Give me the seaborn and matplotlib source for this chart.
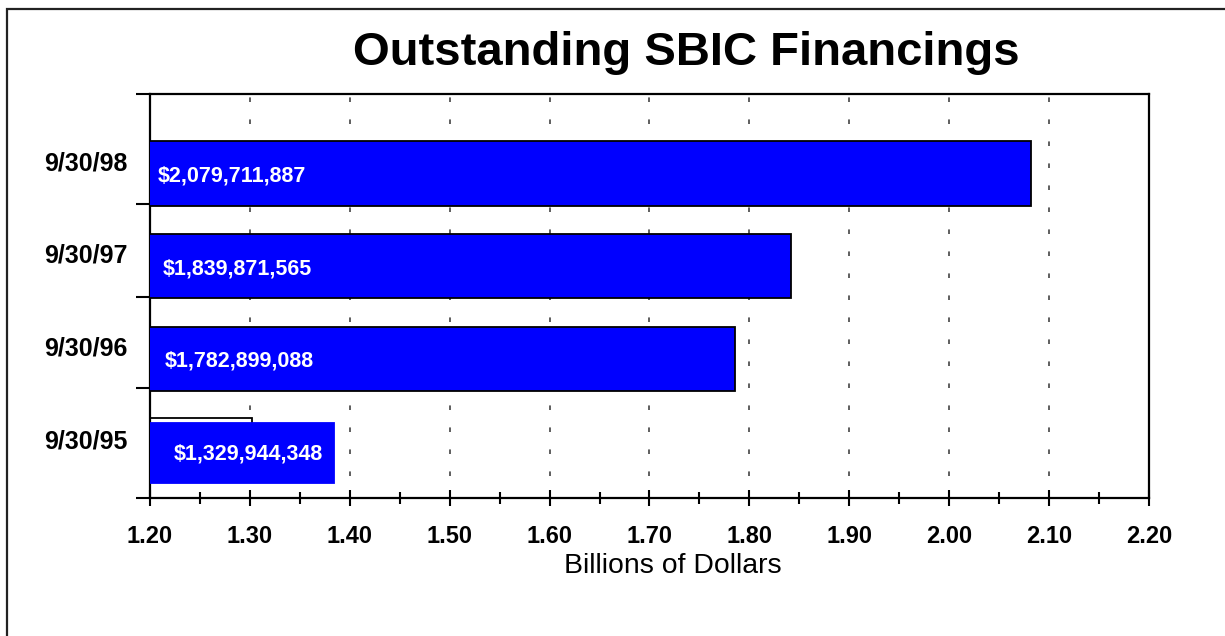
import matplotlib
matplotlib.use("Agg")
import matplotlib.pyplot as plt
import matplotlib.transforms as mtransforms
from matplotlib.patches import Rectangle
from matplotlib.ticker import MultipleLocator, FixedLocator
import seaborn as sns
import pandas as pd

# ---- data ----
categories = ["9/30/98", "9/30/97", "9/30/96", "9/30/95"]
bar_values = [2.082, 1.842, 1.786, 1.384]          # billions, drawn bar lengths
bar_labels = ["$2,079,711,887", "$1,839,871,565", "$1,782,899,088", "$1,329,944,348"]
ghost_value_95 = 1.302                               # stray outline behind the 9/30/95 bar
x_ticks = [1.20, 1.30, 1.40, 1.50, 1.60, 1.70, 1.80, 1.90, 2.00, 2.10, 2.20]
title = "Outstanding SBIC Financings"
xlabel = "Billions of Dollars"

sns.set_style("white")
plt.rcParams["font.family"] = ["Liberation Sans", "DejaVu Sans"]

W, H = 1225, 636
fig = plt.figure(figsize=(W / 100, H / 100), dpi=100)
ax = fig.add_axes([150 / W, 1 - 497.5 / H, 999 / W, (497.5 - 94) / H])

df = pd.DataFrame({"cat": categories, "val": bar_values})

# stray outline bar (drawn first, sits behind)
ax.barh([2.975], [ghost_value_95 - 1.2], left=1.2, height=0.68,
        facecolor="none", edgecolor="black", linewidth=1.3, zorder=2)

sns.barplot(data=df, x="val", y="cat", order=categories, orient="h",
            color="#0000FF", saturation=1, width=0.69,
            edgecolor="black", linewidth=1.3, ax=ax, zorder=3)

for i, p in enumerate(ax.patches[1:]):
    if i == 3:
        p.set_edgecolor("#0000FF")
        p.set_height(0.646)
        p.set_y(3.008 - 0.323)

ax.set_xlim(1.2, 2.2)
ax.set_ylim(3.487, -0.856)

# bar value labels
label_offsets = [8, 13, 15, 24]
for i, (v, lab) in enumerate(zip(bar_values, bar_labels)):
    ax.annotate(lab, xy=(1.2, i), xytext=(label_offsets[i] * 0.72, -1.5),
                textcoords="offset points", ha="left", va="center",
                color="white", fontsize=15.5, fontweight="bold", zorder=5)

# x axis
ax.xaxis.set_major_locator(FixedLocator(x_ticks))
ax.xaxis.set_minor_locator(MultipleLocator(0.05))
ax.set_xticklabels([f"{t:.2f}" for t in x_ticks], fontsize=17, fontweight="bold",
                   color="black")
ax.tick_params(axis="x", which="major", bottom=True, direction="inout", length=11,
               width=1.5, color="black", pad=14)
ax.tick_params(axis="x", which="minor", bottom=True, direction="inout", length=9,
               width=1.5, color="black")
ax.set_xlabel(xlabel, fontsize=20.4, color="black", va="baseline")
ax.xaxis.set_label_coords((673 - 150) / 999, -(573 - 497.5) / (497.5 - 94))

# y axis
ax.set_ylabel("")
ax.set_yticks(range(len(categories)))
ax.set_yticklabels(categories, fontsize=18, fontweight="bold", color="black")
ax.yaxis.set_minor_locator(FixedLocator([-0.856, 0.327, 1.328, 2.308, 3.487]))
ax.tick_params(axis="y", which="major", left=True, length=0, pad=16)
ax.tick_params(axis="y", which="minor", left=True, direction="out", length=10,
               width=1.5, color="black")
shift = mtransforms.ScaledTranslation(0, 13 / 100, fig.dpi_scale_trans)
for t in ax.get_yticklabels():
    t.set_transform(t.get_transform() + shift)

# grid
ax.set_axisbelow(True)
ax.xaxis.grid(True, which="major", linestyle=(0, (3, 11.4)), color="#333333",
              linewidth=1.1)
ax.xaxis.grid(False, which="minor")
ax.yaxis.grid(False)

for s in ax.spines.values():
    s.set_visible(True)
    s.set_color("black")
    s.set_linewidth(1.6)

# title
fig.text(686 / W, 1 - 65 / H, title, ha="center", va="baseline",
         fontsize=34, fontweight="bold", color="black")

# figure border
fig.patches.append(Rectangle((7 / W, -0.05), 1.2, (1 - 9 / H) + 0.05,
                             transform=fig.transFigure, fill=False,
                             edgecolor="#222222", linewidth=1.6))

fig.savefig("out.png", dpi=100)
